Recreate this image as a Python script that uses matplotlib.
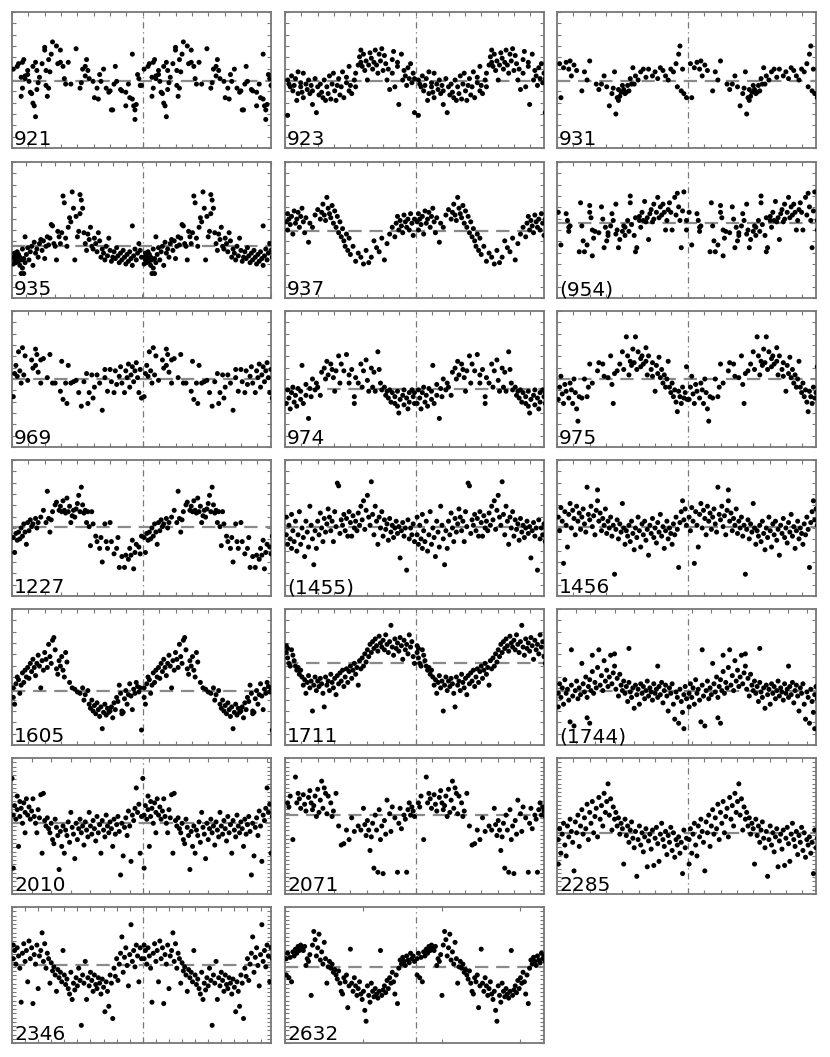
import numpy as np
import matplotlib
matplotlib.use("Agg")
import matplotlib.pyplot as plt
from matplotlib.ticker import MultipleLocator

# ---- star identifiers, mean levels (percent of panel height) ----
names = ["921", "923", "931", "935", "937", "(954)", "969", "974", "975",
         "1227", "(1455)", "1456", "1605", "1711", "(1744)",
         "2010", "2071", "2285", "2346", "2632"]
means = [49, 49, 49, 38, 49, 55, 50, 43, 50,
         51, 51, 51, 40, 60, 40, 52, 58, 45, 57, 56]
xstep = [0.125, 0.125, 0.125, 0.11, 0.125, 0.125, 0.125, 0.125, 0.125,
         0.125, 0.125, 0.125, 0.125, 0.125, 0.147, 0.15, 0.125, 0.125, 0.1, 0.6]
dense_y = [False]*15 + [True]*5

# ---- phase-folded light curves: (phase, relative brightness %) ----
d921 = [(0.01,58),(0.04,60),(0.05,62),(0.07,52),(0.07,38),(0.08,44),(0.08,63),(0.09,65),(0.10,53),(0.10,51),(0.12,54),(0.12,57),(0.13,49),(0.14,41),(0.15,40),(0.16,60),(0.16,33),(0.17,31),(0.18,23),(0.18,63),(0.19,57),(0.19,43),(0.20,48),(0.21,52),(0.23,62),(0.25,74),(0.25,72),(0.26,57),(0.26,46),(0.27,38),(0.28,44),(0.28,65),(0.29,56),(0.30,69),(0.31,78),(0.34,75),(0.35,62),(0.37,72),(0.37,63),(0.39,60),(0.40,51),(0.41,47),(0.43,63),(0.45,47),(0.49,73),(0.52,44),(0.53,48),(0.54,58),(0.56,53),(0.56,60),(0.57,65),(0.58,57),(0.59,51),(0.62,49),(0.63,37),(0.65,44),(0.66,36),(0.67,54),(0.68,49),(0.70,58),(0.72,44),(0.74,41),(0.75,42),(0.76,28),(0.77,28),(0.78,47),(0.79,60),(0.80,49),(0.83,43),(0.84,42),(0.87,41),(0.87,31),(0.89,47),(0.90,37),(0.92,36),(0.92,69),(0.93,31),(0.94,28),(0.94,21),(0.95,32),(0.96,54),(0.97,51),(0.98,46),(0.99,46)]
d923 = [(0.02,50),(0.02,24),(0.03,47),(0.04,45),(0.05,53),(0.06,42),(0.07,46),(0.08,51),(0.09,35),(0.10,56),(0.10,40),(0.12,48),(0.12,45),(0.13,41),(0.14,55),(0.14,37),(0.16,47),(0.17,43),(0.18,50),(0.19,40),(0.20,46),(0.21,32),(0.21,42),(0.23,51),(0.24,26),(0.25,45),(0.26,39),(0.27,47),(0.28,41),(0.29,37),(0.30,50),(0.31,35),(0.32,45),(0.33,40),(0.34,53),(0.35,36),(0.36,47),(0.37,55),(0.38,42),(0.39,35),(0.40,46),(0.41,51),(0.42,39),(0.43,45),(0.44,56),(0.45,37),(0.47,48),(0.47,52),(0.49,42),(0.49,60),(0.50,46),(0.51,40),(0.53,50),(0.54,55),(0.54,45),(0.56,61),(0.57,67),(0.58,63),(0.58,72),(0.59,60),(0.60,69),(0.61,57),(0.62,64),(0.63,50),(0.64,61),(0.65,70),(0.66,66),(0.67,58),(0.68,63),(0.69,72),(0.70,61),(0.71,55),(0.72,69),(0.73,64),(0.74,73),(0.75,57),(0.76,68),(0.77,62),(0.78,50),(0.79,58),(0.80,43),(0.82,65),(0.82,55),(0.83,71),(0.84,45),(0.86,63),(0.86,60),(0.87,32),(0.89,69),(0.90,50),(0.91,57),(0.92,53),(0.93,46),(0.94,59),(0.95,51),(0.96,62),(0.97,48),(0.98,55),(0.99,51),(0.99,26)]
d931 = [(0.02,62),(0.03,37),(0.05,59),(0.07,63),(0.09,58),(0.10,64),(0.11,53),(0.13,61),(0.15,57),(0.19,42),(0.21,56),(0.23,50),(0.25,64),(0.30,47),(0.32,43),(0.34,47),(0.36,53),(0.38,45),(0.40,31),(0.42,40),(0.43,44),(0.44,56),(0.45,25),(0.46,37),(0.47,43),(0.47,35),(0.48,38),(0.49,41),(0.50,46),(0.51,43),(0.52,40),(0.53,41),(0.54,46),(0.55,42),(0.56,51),(0.57,47),(0.58,59),(0.59,47),(0.60,53),(0.62,50),(0.64,56),(0.66,58),(0.68,52),(0.70,58),(0.73,53),(0.75,56),(0.77,51),(0.79,59),(0.81,57),(0.83,53),(0.85,50),(0.87,58),(0.89,56),(0.91,62),(0.92,45),(0.93,69),(0.94,75),(0.95,42),(0.96,58),(0.97,40),(0.99,37)]
d935 = [(0.01,30),(0.01,25),(0.02,33),(0.02,28),(0.03,31),(0.03,26),(0.04,34),(0.04,29),(0.05,27),(0.05,32),(0.06,24),(0.06,30),(0.07,28),(0.07,18),(0.08,36),(0.08,22),(0.09,29),(0.09,18),(0.10,26),(0.10,45),(0.11,32),(0.12,37),(0.13,28),(0.14,34),(0.15,38),(0.16,24),(0.17,41),(0.18,33),(0.19,36),(0.20,30),(0.21,40),(0.22,43),(0.23,35),(0.24,42),(0.25,29),(0.26,38),(0.27,45),(0.28,39),(0.29,44),(0.30,54),(0.31,53),(0.32,40),(0.33,38),(0.34,28),(0.35,49),(0.36,45),(0.37,40),(0.38,48),(0.39,75),(0.40,70),(0.41,44),(0.42,38),(0.43,52),(0.44,59),(0.45,56),(0.46,78),(0.47,66),(0.48,28),(0.49,60),(0.50,45),(0.51,49),(0.52,76),(0.52,62),(0.53,72),(0.54,66),(0.55,48),(0.56,40),(0.57,35),(0.58,47),(0.59,43),(0.60,52),(0.61,38),(0.62,36),(0.63,44),(0.64,40),(0.65,34),(0.66,48),(0.67,42),(0.68,30),(0.69,36),(0.70,33),(0.71,28),(0.72,38),(0.73,31),(0.74,44),(0.75,35),(0.76,27),(0.77,30),(0.78,34),(0.79,29),(0.80,37),(0.81,31),(0.82,26),(0.83,33),(0.84,28),(0.85,35),(0.86,30),(0.87,25),(0.88,32),(0.89,27),(0.90,34),(0.91,29),(0.92,24),(0.92,53),(0.93,31),(0.94,36),(0.95,28),(0.96,33),(0.97,40),(0.98,35),(0.99,30)]
d937 = [(0.01,56),(0.02,62),(0.02,50),(0.03,58),(0.04,54),(0.05,60),(0.06,47),(0.07,64),(0.08,55),(0.09,58),(0.10,63),(0.11,52),(0.12,60),(0.13,66),(0.14,56),(0.15,48),(0.16,59),(0.18,41),(0.19,55),(0.21,52),(0.23,61),(0.25,65),(0.27,58),(0.28,63),(0.29,69),(0.30,61),(0.31,57),(0.32,74),(0.33,66),(0.34,62),(0.35,59),(0.36,68),(0.37,55),(0.38,64),(0.39,52),(0.40,60),(0.41,48),(0.42,56),(0.43,45),(0.44,51),(0.45,42),(0.46,38),(0.47,47),(0.48,35),(0.49,44),(0.50,32),(0.52,38),(0.54,27),(0.56,33),(0.58,30),(0.60,25),(0.62,35),(0.64,26),(0.66,30),(0.68,42),(0.70,37),(0.72,34),(0.74,44),(0.76,28),(0.78,40),(0.80,47),(0.82,52),(0.84,45),(0.85,55),(0.86,60),(0.87,50),(0.88,57),(0.89,53),(0.90,48),(0.91,61),(0.92,56),(0.93,52),(0.94,58),(0.95,50),(0.96,62),(0.97,55),(0.98,46),(0.99,58)]
d954 = [(0.01,63),(0.03,39),(0.07,62),(0.08,57),(0.09,52),(0.09,49),(0.10,53),(0.17,34),(0.18,70),(0.19,53),(0.20,42),(0.21,34),(0.23,39),(0.25,68),(0.25,63),(0.26,59),(0.27,31),(0.27,50),(0.28,44),(0.29,49),(0.32,48),(0.34,67),(0.35,58),(0.36,37),(0.37,52),(0.38,42),(0.39,46),(0.39,48),(0.41,53),(0.42,62),(0.43,57),(0.45,47),(0.45,69),(0.46,50),(0.47,37),(0.48,43),(0.50,49),(0.51,53),(0.52,46),(0.52,52),(0.54,57),(0.55,49),(0.56,75),(0.56,70),(0.57,54),(0.59,46),(0.60,59),(0.60,34),(0.61,37),(0.63,60),(0.63,57),(0.64,52),(0.65,63),(0.66,57),(0.67,71),(0.68,56),(0.69,59),(0.70,43),(0.71,62),(0.72,65),(0.73,56),(0.74,69),(0.74,58),(0.76,63),(0.77,74),(0.78,59),(0.79,67),(0.80,61),(0.81,69),(0.82,63),(0.83,50),(0.84,57),(0.85,65),(0.86,70),(0.87,63),(0.88,50),(0.90,74),(0.91,61),(0.92,77),(0.93,67),(0.94,57),(0.95,37),(0.96,64),(0.97,78),(0.99,57),(0.99,50)]
d969 = [(0.01,37),(0.02,54),(0.03,60),(0.04,52),(0.05,70),(0.06,56),(0.07,47),(0.08,73),(0.09,53),(0.10,67),(0.12,49),(0.15,64),(0.16,58),(0.18,72),(0.18,60),(0.19,68),(0.20,55),(0.22,64),(0.22,47),(0.24,65),(0.27,51),(0.29,68),(0.31,47),(0.33,47),(0.37,41),(0.38,63),(0.39,35),(0.41,47),(0.42,32),(0.43,60),(0.45,47),(0.47,48),(0.49,49),(0.51,40),(0.53,30),(0.55,48),(0.57,54),(0.58,32),(0.59,40),(0.61,53),(0.62,36),(0.63,44),(0.65,53),(0.67,47),(0.69,27),(0.71,57),(0.71,51),(0.73,41),(0.75,57),(0.76,48),(0.78,40),(0.79,56),(0.80,46),(0.82,52),(0.83,59),(0.84,47),(0.86,40),(0.87,56),(0.88,51),(0.89,61),(0.90,44),(0.91,53),(0.92,59),(0.93,48),(0.94,56),(0.95,62),(0.96,51),(0.97,40),(0.98,57),(0.99,36)]
d974 = [(0.01,32),(0.02,42),(0.03,36),(0.04,28),(0.05,40),(0.06,44),(0.07,33),(0.08,38),(0.09,30),(0.10,43),(0.12,35),(0.12,41),(0.13,60),(0.14,32),(0.16,46),(0.16,38),(0.18,21),(0.19,43),(0.20,37),(0.21,50),(0.23,42),(0.24,47),(0.25,44),(0.27,38),(0.28,55),(0.30,58),(0.31,50),(0.32,63),(0.33,53),(0.35,61),(0.36,57),(0.37,51),(0.38,41),(0.39,56),(0.41,67),(0.42,47),(0.43,61),(0.45,56),(0.47,68),(0.49,53),(0.49,47),(0.51,57),(0.53,37),(0.53,32),(0.54,51),(0.56,47),(0.58,61),(0.59,44),(0.60,56),(0.62,64),(0.63,49),(0.64,41),(0.66,58),(0.67,44),(0.68,55),(0.69,41),(0.71,70),(0.72,57),(0.73,47),(0.74,42),(0.76,44),(0.77,38),(0.78,41),(0.79,36),(0.80,42),(0.81,33),(0.82,40),(0.84,32),(0.84,37),(0.86,30),(0.86,41),(0.87,25),(0.88,35),(0.90,38),(0.91,31),(0.91,42),(0.93,36),(0.94,28),(0.95,40),(0.95,33),(0.97,42),(0.98,37),(0.99,32),(0.99,40)]
d975 = [(0.01,35),(0.02,44),(0.03,52),(0.04,39),(0.05,32),(0.06,46),(0.07,41),(0.09,36),(0.10,47),(0.11,42),(0.12,32),(0.13,50),(0.14,40),(0.15,28),(0.16,19),(0.17,37),(0.19,36),(0.21,50),(0.23,37),(0.24,44),(0.25,61),(0.27,47),(0.31,56),(0.32,62),(0.35,61),(0.36,52),(0.39,51),(0.41,67),(0.42,46),(0.43,32),(0.44,54),(0.46,56),(0.48,61),(0.50,70),(0.51,57),(0.53,81),(0.54,67),(0.55,53),(0.56,63),(0.57,60),(0.58,72),(0.59,62),(0.60,81),(0.61,57),(0.62,70),(0.64,65),(0.64,59),(0.65,67),(0.66,61),(0.68,73),(0.68,63),(0.69,53),(0.70,67),(0.72,57),(0.73,62),(0.73,52),(0.75,41),(0.76,60),(0.77,54),(0.78,66),(0.79,51),(0.80,57),(0.81,47),(0.82,53),(0.83,44),(0.84,50),(0.85,63),(0.86,44),(0.87,40),(0.88,47),(0.89,37),(0.90,42),(0.91,33),(0.92,26),(0.93,41),(0.94,37),(0.95,32),(0.96,44),(0.97,36),(0.98,40),(0.99,59),(0.995,35)]
d1227 = [(0.01,43),(0.02,32),(0.03,46),(0.04,41),(0.05,47),(0.06,42),(0.07,50),(0.08,44),(0.09,53),(0.10,47),(0.11,38),(0.12,54),(0.13,48),(0.14,56),(0.15,51),(0.16,53),(0.18,57),(0.19,50),(0.20,54),(0.22,58),(0.24,63),(0.26,54),(0.27,77),(0.28,57),(0.29,47),(0.30,56),(0.31,62),(0.33,67),(0.34,69),(0.36,63),(0.37,66),(0.38,62),(0.39,70),(0.40,63),(0.41,61),(0.42,72),(0.43,62),(0.44,66),(0.45,54),(0.46,59),(0.47,63),(0.48,58),(0.49,64),(0.50,68),(0.51,74),(0.52,62),(0.53,80),(0.54,67),(0.55,61),(0.56,63),(0.57,54),(0.58,62),(0.59,51),(0.60,37),(0.61,62),(0.62,53),(0.64,44),(0.65,40),(0.67,35),(0.68,43),(0.69,25),(0.71,53),(0.72,40),(0.73,35),(0.75,54),(0.76,40),(0.78,31),(0.80,35),(0.81,43),(0.82,21),(0.84,29),(0.86,21),(0.87,30),(0.89,27),(0.90,35),(0.91,30),(0.92,41),(0.93,20),(0.94,32),(0.95,38),(0.97,36),(0.98,31),(0.99,44)]
d1455 = [(0.01,45),(0.01,58),(0.02,38),(0.03,52),(0.04,42),(0.05,60),(0.05,35),(0.06,48),(0.07,40),(0.08,55),(0.09,33),(0.10,45),(0.11,62),(0.12,38),(0.13,50),(0.14,43),(0.15,29),(0.16,55),(0.17,47),(0.18,36),(0.19,66),(0.20,52),(0.21,42),(0.22,23),(0.23,48),(0.24,35),(0.25,55),(0.26,45),(0.27,61),(0.28,50),(0.29,40),(0.30,57),(0.31,47),(0.32,53),(0.33,64),(0.34,58),(0.35,48),(0.36,55),(0.37,40),(0.38,62),(0.39,51),(0.40,83),(0.41,81),(0.42,46),(0.43,56),(0.44,52),(0.45,60),(0.46,48),(0.47,57),(0.48,44),(0.49,62),(0.50,54),(0.51,44),(0.52,59),(0.53,50),(0.54,55),(0.55,48),(0.56,61),(0.57,52),(0.58,66),(0.59,56),(0.60,70),(0.61,49),(0.62,63),(0.63,74),(0.64,58),(0.65,52),(0.66,84),(0.67,60),(0.68,45),(0.69,66),(0.70,55),(0.71,38),(0.72,58),(0.73,50),(0.74,62),(0.75,44),(0.76,56),(0.77,49),(0.78,53),(0.79,41),(0.80,57),(0.81,47),(0.82,52),(0.83,43),(0.84,50),(0.85,55),(0.86,46),(0.87,51),(0.88,28),(0.89,48),(0.90,54),(0.91,44),(0.92,50),(0.93,19),(0.94,56),(0.95,42),(0.96,50),(0.97,45),(0.98,53),(0.99,40)]
d1456 = [(0.01,58),(0.02,48),(0.03,65),(0.04,55),(0.05,24),(0.06,62),(0.07,52),(0.08,36),(0.09,60),(0.10,68),(0.11,50),(0.12,63),(0.13,57),(0.14,45),(0.15,66),(0.16,55),(0.17,61),(0.18,49),(0.19,58),(0.20,64),(0.21,53),(0.22,47),(0.23,80),(0.24,60),(0.25,56),(0.26,66),(0.27,51),(0.28,59),(0.29,45),(0.30,63),(0.31,78),(0.31,70),(0.32,55),(0.33,61),(0.34,48),(0.35,57),(0.36,52),(0.37,64),(0.38,46),(0.39,55),(0.40,50),(0.41,58),(0.42,44),(0.43,52),(0.44,16),(0.45,49),(0.46,56),(0.47,42),(0.48,53),(0.49,47),(0.50,68),(0.51,50),(0.52,38),(0.53,48),(0.54,44),(0.55,52),(0.56,40),(0.57,55),(0.58,46),(0.59,34),(0.60,50),(0.61,43),(0.62,58),(0.63,48),(0.64,36),(0.65,53),(0.66,45),(0.67,55),(0.68,41),(0.69,49),(0.70,30),(0.71,52),(0.72,46),(0.73,57),(0.74,43),(0.75,50),(0.76,39),(0.77,54),(0.78,47),(0.79,60),(0.80,44),(0.81,51),(0.82,35),(0.83,48),(0.84,55),(0.85,42),(0.86,50),(0.87,46),(0.88,38),(0.89,53),(0.90,45),(0.91,58),(0.92,49),(0.93,21),(0.94,54),(0.95,62),(0.96,70),(0.97,56),(0.98,64),(0.99,52)]
d1605 = [(0.01,35),(0.01,42),(0.02,30),(0.03,45),(0.04,50),(0.05,48),(0.06,38),(0.07,44),(0.08,53),(0.09,46),(0.10,55),(0.11,50),(0.12,57),(0.13,49),(0.14,60),(0.15,54),(0.16,63),(0.17,57),(0.18,51),(0.19,60),(0.20,66),(0.21,58),(0.22,42),(0.23,62),(0.24,55),(0.25,68),(0.26,63),(0.27,57),(0.28,74),(0.29,65),(0.30,60),(0.31,77),(0.32,79),(0.33,70),(0.34,56),(0.35,52),(0.36,62),(0.37,58),(0.38,65),(0.39,55),(0.40,50),(0.41,68),(0.42,61),(0.44,46),(0.46,42),(0.48,41),(0.50,39),(0.52,38),(0.54,42),(0.55,33),(0.56,37),(0.58,40),(0.59,30),(0.60,27),(0.61,33),(0.62,25),(0.63,29),(0.64,23),(0.65,31),(0.66,26),(0.67,21),(0.68,28),(0.69,12),(0.70,24),(0.71,30),(0.72,22),(0.73,27),(0.74,24),(0.75,25),(0.76,28),(0.77,20),(0.78,31),(0.79,26),(0.80,35),(0.81,32),(0.82,44),(0.83,38),(0.84,23),(0.84,25),(0.85,24),(0.86,34),(0.87,40),(0.88,30),(0.89,37),(0.90,45),(0.91,36),(0.92,26),(0.93,41),(0.94,38),(0.95,46),(0.96,43),(0.97,39),(0.98,42),(0.99,11)]
d1711 = [(0.01,68),(0.01,73),(0.02,64),(0.02,71),(0.03,60),(0.04,58),(0.05,70),(0.06,66),(0.07,62),(0.08,58),(0.09,55),(0.10,57),(0.11,52),(0.12,55),(0.13,50),(0.14,44),(0.15,48),(0.16,38),(0.17,46),(0.18,51),(0.19,42),(0.20,47),(0.21,25),(0.22,44),(0.23,50),(0.24,40),(0.25,47),(0.26,43),(0.27,49),(0.28,45),(0.29,38),(0.30,28),(0.31,50),(0.32,44),(0.33,47),(0.34,40),(0.35,52),(0.36,46),(0.37,42),(0.38,49),(0.39,37),(0.40,51),(0.41,45),(0.42,53),(0.43,47),(0.44,55),(0.45,43),(0.46,50),(0.47,56),(0.48,46),(0.49,54),(0.50,58),(0.51,49),(0.52,55),(0.53,60),(0.54,52),(0.55,57),(0.56,44),(0.57,62),(0.58,56),(0.59,64),(0.60,58),(0.61,67),(0.62,61),(0.63,70),(0.64,65),(0.65,74),(0.66,68),(0.67,76),(0.68,71),(0.69,78),(0.70,73),(0.71,69),(0.72,80),(0.73,75),(0.74,72),(0.75,77),(0.76,70),(0.77,81),(0.78,74),(0.79,68),(0.80,76),(0.81,88),(0.82,72),(0.83,66),(0.84,78),(0.85,71),(0.86,75),(0.87,69),(0.88,79),(0.89,73),(0.90,63),(0.91,77),(0.92,70),(0.93,74),(0.94,67),(0.95,81),(0.96,72),(0.97,76),(0.98,65),(0.99,60)]
d1744 = [(0.01,38),(0.01,28),(0.02,45),(0.03,35),(0.04,42),(0.05,30),(0.06,48),(0.07,38),(0.08,41),(0.09,33),(0.10,17),(0.11,44),(0.11,70),(0.12,36),(0.13,14),(0.14,40),(0.15,47),(0.16,34),(0.17,42),(0.18,37),(0.19,60),(0.20,45),(0.21,39),(0.22,50),(0.23,35),(0.23,20),(0.24,43),(0.25,48),(0.25,16),(0.26,40),(0.27,54),(0.27,66),(0.28,38),(0.29,46),(0.30,42),(0.31,57),(0.32,70),(0.33,44),(0.34,51),(0.35,40),(0.36,62),(0.37,47),(0.38,55),(0.39,43),(0.40,50),(0.41,66),(0.42,45),(0.43,53),(0.44,58),(0.44,67),(0.45,41),(0.46,49),(0.47,36),(0.48,52),(0.49,44),(0.50,40),(0.51,47),(0.52,38),(0.53,43),(0.54,32),(0.55,46),(0.55,71),(0.56,39),(0.57,35),(0.58,42),(0.59,27),(0.60,44),(0.61,37),(0.62,41),(0.63,30),(0.64,45),(0.65,38),(0.66,43),(0.67,34),(0.68,40),(0.69,47),(0.70,36),(0.71,42),(0.72,39),(0.73,33),(0.74,45),(0.75,38),(0.76,41),(0.77,35),(0.77,58),(0.78,43),(0.79,37),(0.80,46),(0.81,31),(0.82,40),(0.83,44),(0.84,36),(0.85,25),(0.86,42),(0.87,38),(0.88,45),(0.89,30),(0.90,19),(0.91,39),(0.92,35),(0.93,16),(0.94,41),(0.95,32),(0.96,24),(0.97,12),(0.97,37),(0.98,43),(0.99,34)]
d2010 = [(0.00,85),(0.01,19),(0.01,58),(0.02,65),(0.03,55),(0.04,72),(0.04,62),(0.05,35),(0.06,68),(0.06,57),(0.07,63),(0.08,52),(0.09,67),(0.10,60),(0.10,45),(0.11,70),(0.12,58),(0.13,64),(0.14,55),(0.15,61),(0.16,70),(0.17,57),(0.18,52),(0.19,45),(0.20,62),(0.21,56),(0.22,73),(0.23,30),(0.24,74),(0.25,54),(0.26,50),(0.27,56),(0.28,48),(0.29,45),(0.30,52),(0.31,40),(0.32,37),(0.33,55),(0.34,49),(0.35,43),(0.36,18),(0.37,46),(0.38,35),(0.39,50),(0.40,30),(0.41,47),(0.42,43),(0.43,53),(0.44,38),(0.45,60),(0.46,49),(0.47,44),(0.48,26),(0.49,52),(0.50,40),(0.51,48),(0.52,55),(0.53,45),(0.54,50),(0.55,36),(0.56,53),(0.57,47),(0.58,42),(0.59,60),(0.60,50),(0.61,44),(0.62,54),(0.63,48),(0.64,39),(0.65,57),(0.66,45),(0.67,51),(0.68,30),(0.69,54),(0.70,47),(0.71,42),(0.72,58),(0.73,50),(0.74,45),(0.75,53),(0.76,48),(0.77,35),(0.78,55),(0.79,44),(0.80,51),(0.81,57),(0.82,46),(0.83,14),(0.84,52),(0.85,28),(0.86,49),(0.87,56),(0.88,43),(0.89,61),(0.90,50),(0.91,24),(0.92,58),(0.93,54),(0.94,63),(0.95,78),(0.96,60),(0.97,66),(0.98,30),(0.99,57)]
d2071 = [(0.02,67),(0.03,64),(0.04,72),(0.06,40),(0.08,86),(0.09,67),(0.10,74),(0.11,70),(0.12,63),(0.14,73),(0.15,66),(0.16,61),(0.18,71),(0.19,76),(0.20,67),(0.21,62),(0.22,65),(0.23,72),(0.24,57),(0.25,77),(0.26,60),(0.27,69),(0.28,83),(0.29,63),(0.30,78),(0.31,74),(0.32,59),(0.33,72),(0.35,67),(0.36,57),(0.37,61),(0.39,74),(0.41,50),(0.43,36),(0.45,37),(0.47,47),(0.49,40),(0.51,56),(0.53,46),(0.56,50),(0.58,47),(0.60,63),(0.61,51),(0.62,43),(0.63,54),(0.64,47),(0.65,32),(0.66,42),(0.67,52),(0.68,19),(0.69,58),(0.70,47),(0.71,16),(0.72,62),(0.73,40),(0.74,50),(0.75,15),(0.76,54),(0.77,44),(0.78,69),(0.80,59),(0.81,46),(0.82,64),(0.84,56),(0.86,16),(0.87,52),(0.88,63),(0.89,48),(0.91,58),(0.92,55),(0.93,16),(0.94,62),(0.95,67),(0.96,58),(0.97,64),(0.98,61),(0.99,57)]
d2285 = [(0.01,40),(0.01,22),(0.02,48),(0.03,30),(0.04,44),(0.05,52),(0.06,36),(0.07,28),(0.08,50),(0.09,42),(0.10,55),(0.11,46),(0.12,38),(0.13,17),(0.14,53),(0.15,45),(0.16,58),(0.17,35),(0.18,50),(0.19,62),(0.20,44),(0.21,56),(0.22,48),(0.23,66),(0.24,40),(0.25,60),(0.26,52),(0.27,68),(0.28,45),(0.29,57),(0.30,63),(0.31,42),(0.32,71),(0.33,55),(0.34,65),(0.35,50),(0.36,74),(0.37,60),(0.38,68),(0.39,81),(0.40,58),(0.41,70),(0.42,47),(0.43,64),(0.44,55),(0.45,60),(0.46,50),(0.47,56),(0.48,44),(0.49,52),(0.50,48),(0.51,22),(0.52,55),(0.53,43),(0.54,50),(0.55,38),(0.56,47),(0.57,53),(0.58,41),(0.59,34),(0.60,46),(0.61,13),(0.62,40),(0.63,50),(0.64,36),(0.65,45),(0.66,31),(0.67,42),(0.68,48),(0.69,20),(0.70,39),(0.71,44),(0.72,33),(0.73,47),(0.74,21),(0.75,41),(0.76,49),(0.77,37),(0.78,24),(0.79,44),(0.80,52),(0.81,40),(0.82,35),(0.83,46),(0.84,29),(0.85,43),(0.86,38),(0.87,49),(0.88,32),(0.89,45),(0.90,27),(0.91,40),(0.92,36),(0.93,42),(0.94,30),(0.95,38),(0.96,15),(0.97,47),(0.98,34),(0.99,41)]
d2346 = [(0.01,72),(0.01,62),(0.02,68),(0.03,58),(0.04,70),(0.05,64),(0.06,55),(0.07,30),(0.08,66),(0.09,73),(0.10,60),(0.11,68),(0.12,45),(0.13,75),(0.14,62),(0.15,70),(0.16,29),(0.17,65),(0.18,58),(0.19,72),(0.20,40),(0.21,64),(0.22,68),(0.23,81),(0.24,60),(0.25,73),(0.26,55),(0.27,66),(0.28,62),(0.29,44),(0.30,59),(0.31,53),(0.32,56),(0.33,50),(0.34,38),(0.35,54),(0.36,48),(0.37,52),(0.38,45),(0.39,68),(0.40,50),(0.41,43),(0.42,47),(0.43,40),(0.44,36),(0.45,52),(0.46,32),(0.47,44),(0.48,39),(0.49,48),(0.50,42),(0.51,55),(0.52,46),(0.53,13),(0.54,50),(0.55,44),(0.56,60),(0.57,32),(0.58,48),(0.59,42),(0.60,52),(0.61,46),(0.62,38),(0.63,50),(0.64,43),(0.65,40),(0.66,48),(0.67,44),(0.68,36),(0.69,47),(0.70,41),(0.71,23),(0.72,45),(0.73,38),(0.74,27),(0.75,50),(0.76,44),(0.77,18),(0.78,55),(0.79,49),(0.80,62),(0.81,46),(0.82,58),(0.83,66),(0.84,78),(0.85,52),(0.86,63),(0.87,70),(0.88,57),(0.89,42),(0.90,65),(0.91,87),(0.92,60),(0.93,68),(0.94,56),(0.95,72),(0.96,64),(0.97,45),(0.98,70),(0.99,62)]
d2632 = [(0.01,62),(0.01,50),(0.02,66),(0.03,48),(0.04,63),(0.05,45),(0.06,67),(0.07,64),(0.08,69),(0.09,66),(0.10,71),(0.11,68),(0.12,72),(0.13,70),(0.14,68),(0.15,71),(0.16,57),(0.17,62),(0.18,60),(0.19,65),(0.20,35),(0.21,72),(0.22,82),(0.23,76),(0.24,64),(0.25,70),(0.26,80),(0.27,61),(0.28,67),(0.29,58),(0.30,74),(0.31,62),(0.32,44),(0.33,56),(0.34,60),(0.35,55),(0.36,58),(0.37,52),(0.38,54),(0.39,50),(0.40,47),(0.41,53),(0.42,44),(0.43,38),(0.44,36),(0.45,48),(0.46,45),(0.47,50),(0.48,26),(0.49,42),(0.50,69),(0.51,44),(0.52,38),(0.53,48),(0.54,42),(0.55,35),(0.56,40),(0.57,45),(0.58,36),(0.59,32),(0.60,38),(0.61,24),(0.62,16),(0.63,42),(0.64,35),(0.65,30),(0.66,44),(0.67,38),(0.68,34),(0.69,40),(0.70,36),(0.71,33),(0.72,38),(0.73,68),(0.74,35),(0.75,39),(0.76,42),(0.77,37),(0.78,46),(0.79,40),(0.80,48),(0.81,44),(0.82,52),(0.83,45),(0.84,36),(0.85,50),(0.86,29),(0.87,55),(0.88,61),(0.89,58),(0.90,63),(0.91,60),(0.92,57),(0.93,64),(0.94,61),(0.95,59),(0.96,66),(0.97,62),(0.98,64),(0.99,60)]

curves = [d921, d923, d931, d935, d937, d954, d969, d974, d975,
          d1227, d1455, d1456, d1605, d1711, d1744,
          d2010, d2071, d2285, d2346, d2632]

# ---- layout (pixels of the 830x1057 figure) ----
W, H = 830, 1057
col_left = [12, 285, 557]
row_top = [12, 162, 311, 460, 609, 758, 907]
pw, ph = 259, 136

fig = plt.figure(figsize=(W/100, H/100), dpi=100)
spine_col = "#777777"

for i, (name, m, data) in enumerate(zip(names, means, curves)):
    r, c = divmod(i, 3)
    ax = fig.add_axes([col_left[c]/W, 1 - (row_top[r] + ph)/H, pw/W, ph/H])
    arr = np.array(data, dtype=float)
    ph_, yv = arr[:, 0], arr[:, 1]
    xs = np.concatenate([ph_, ph_ + 1.0])
    ys = np.concatenate([yv, yv])
    ax.scatter(xs, ys, s=13, c="black", edgecolors="none", zorder=3)
    ax.axhline(m, color="#8a8a8a", lw=1.6, dashes=(6, 3.5), zorder=2)
    ax.axvline(1.0, color="#777777", lw=0.9, linestyle=(0, (5, 3, 1, 3)), zorder=1)
    ax.set_xlim(0, 1.98)
    ax.set_ylim(0, 100)
    ax.xaxis.set_major_locator(MultipleLocator(xstep[i]))
    if dense_y[i]:
        ax.yaxis.set_major_locator(MultipleLocator(100/32))
    else:
        ax.yaxis.set_major_locator(MultipleLocator(100/12))
    ax.tick_params(direction="in", top=True, right=True, length=3, width=0.8,
                   color=spine_col, labelbottom=False, labelleft=False)
    for sp in ax.spines.values():
        sp.set_color(spine_col)
        sp.set_linewidth(1.3)
    ax.text(0.008, 0.02, name, transform=ax.transAxes, fontsize=14.5,
            ha="left", va="baseline", color="black", zorder=4)

fig.savefig("out.png", dpi=100)
